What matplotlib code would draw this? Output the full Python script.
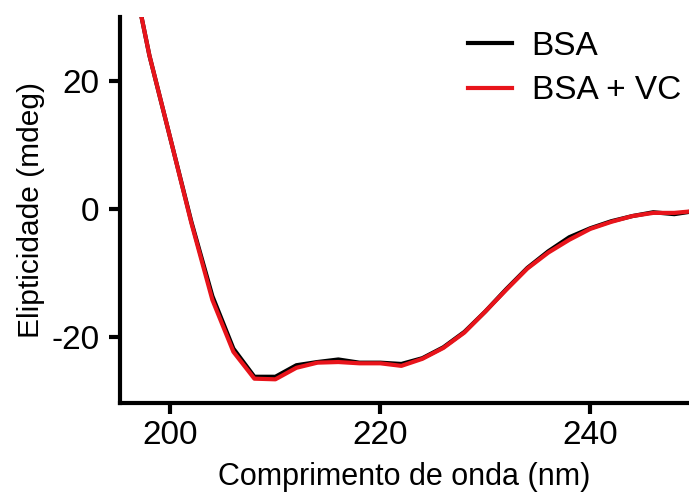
import matplotlib
matplotlib.use("Agg")
import matplotlib.pyplot as plt

plt.rcParams['font.family'] = ['Liberation Sans', 'DejaVu Sans']
plt.rcParams['axes.unicode_minus'] = False

wavelength = [196, 198, 200, 202, 204, 206, 208, 210, 212, 214, 216, 218, 220,
              222, 224, 226, 228, 230, 232, 234, 236, 238, 240, 242, 244, 246, 248, 250]
bsa = [40.0, 24.0, 11.0, -2.0, -13.6, -21.8, -26.2, -26.2, -24.4, -23.9, -23.5, -24.0, -24.0,
       -24.2, -23.3, -21.6, -19.2, -16.0, -12.5, -9.2, -6.6, -4.4, -3.0, -1.9, -1.1, -0.5, -0.8, -0.3]
bsa_vc = [40.0, 24.0, 11.0, -2.2, -14.2, -22.3, -26.5, -26.6, -24.8, -24.0, -23.9, -24.1, -24.1,
          -24.5, -23.4, -21.7, -19.3, -16.0, -12.6, -9.3, -6.8, -4.8, -3.1, -2.0, -1.1, -0.6, -0.6, -0.3]

labels = ['BSA', 'BSA + VC']
xticks = [200, 220, 240]
yticks = [-20, 0, 20]

fig = plt.figure(figsize=(6.89, 4.97), dpi=100)
ax = fig.add_axes([120/689, 94/497, 569/689, 386/497])
ax.plot(wavelength, bsa, color='black', lw=3, label=labels[0])
ax.plot(wavelength, bsa_vc, color='#e8141b', lw=3, label=labels[1])

ax.set_xlim(195.2, 249.4)
ax.set_ylim(-30.3, 30)
ax.set_xticks(xticks)
ax.set_yticks(yticks)
ax.spines['top'].set_visible(False)
ax.spines['right'].set_visible(False)
for s in ['left', 'bottom']:
    ax.spines[s].set_linewidth(3)
ax.tick_params(width=3, length=8, labelsize=24)
ax.tick_params(axis='x', pad=4)
ax.tick_params(axis='y', pad=7)
ax.set_xlabel('Comprimento de onda (nm)', fontsize=22, labelpad=8)
ax.set_ylabel('Elipticidade (mdeg)', fontsize=21.5, labelpad=4)
ax.legend(loc='upper right', frameon=False, fontsize=24, handlelength=1.3,
          handletextpad=0.6, labelspacing=0.4, borderaxespad=0, borderpad=0,
          bbox_to_anchor=(681/689, 1 - 31/497), bbox_transform=fig.transFigure)

fig.savefig('out.png', dpi=100)
